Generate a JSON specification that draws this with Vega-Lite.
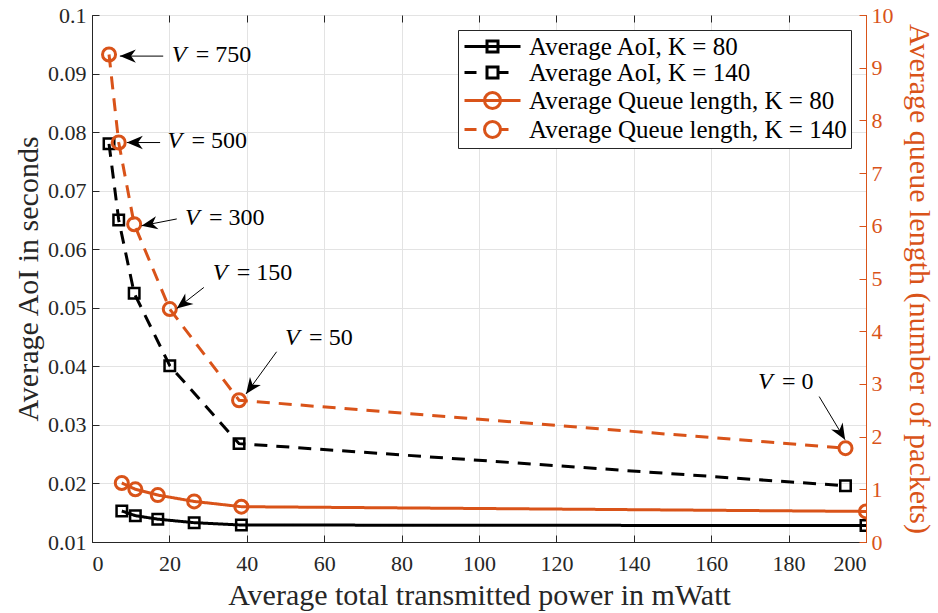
{
  "$schema": "https://vega.github.io/schema/vega-lite/v6.json",
  "width": 774,
  "height": 527,
  "autosize": "none",
  "padding": {"left": 92, "top": 15, "right": 72, "bottom": 71},
  "background": "white",
  "datasets": {
    "aoi": [
      {"P": 7.7, "aoi": 0.0153, "K": "80"},
      {"P": 11.2, "aoi": 0.0145, "K": "80"},
      {"P": 17.0, "aoi": 0.0139, "K": "80"},
      {"P": 26.4, "aoi": 0.0133, "K": "80"},
      {"P": 38.6, "aoi": 0.0129, "K": "80"},
      {"P": 200, "aoi": 0.0128, "K": "80"},
      {"P": 4.4, "aoi": 0.0780, "K": "140"},
      {"P": 6.9, "aoi": 0.0650, "K": "140"},
      {"P": 10.9, "aoi": 0.0525, "K": "140"},
      {"P": 20.1, "aoi": 0.0401, "K": "140"},
      {"P": 38.0, "aoi": 0.0268, "K": "140"},
      {"P": 194.7, "aoi": 0.0196, "K": "140"}
    ],
    "queue": [
      {"P": 7.7, "q": 1.12, "K": "80"},
      {"P": 11.2, "q": 1.0, "K": "80"},
      {"P": 17.0, "q": 0.89, "K": "80"},
      {"P": 26.4, "q": 0.77, "K": "80"},
      {"P": 38.6, "q": 0.67, "K": "80"},
      {"P": 200, "q": 0.58, "K": "80"},
      {"P": 4.4, "q": 9.25, "K": "140"},
      {"P": 6.9, "q": 7.58, "K": "140"},
      {"P": 10.9, "q": 6.03, "K": "140"},
      {"P": 20.1, "q": 4.42, "K": "140"},
      {"P": 38.0, "q": 2.69, "K": "140"},
      {"P": 194.7, "q": 1.78, "K": "140"}
    ],
    "arrows": [
      {"tailP": 18.4, "tailQ": 9.22, "tipP": 7.2, "tipQ": 9.22},
      {"tailP": 17.6, "tailQ": 7.58, "tipP": 9.0, "tipQ": 7.58},
      {"tailP": 21.9, "tailQ": 6.13, "tipP": 12.8, "tipQ": 6.0},
      {"tailP": 28.9, "tailQ": 4.83, "tipP": 21.9, "tipQ": 4.43},
      {"tailP": 47.7, "tailQ": 3.61, "tipP": 39.8, "tipQ": 2.81},
      {"tailP": 187.9, "tailQ": 2.76, "tipP": 194.6, "tipQ": 1.94}
    ],
    "labels": [
      {"P": 20.6, "q": 9.25, "rest": "= 750"},
      {"P": 19.5, "q": 7.6, "rest": "= 500"},
      {"P": 24.0, "q": 6.15, "rest": "= 300"},
      {"P": 31.2, "q": 5.1, "rest": "= 150"},
      {"P": 49.9, "q": 3.88, "rest": "= 50"},
      {"P": 172.1, "q": 3.04, "rest": "= 0"}
    ],
    "legendItems": [
      {"series": "Average AoI, K = 80"}
    ]
  },
  "config": {
    "font": "Liberation Serif",
    "view": {"stroke": "#262626", "strokeWidth": 1},
    "axis": {
      "labelFont": "Liberation Serif",
      "labelFontSize": 22,
      "titleFont": "Liberation Serif",
      "titleFontSize": 30,
      "titleFontWeight": "normal",
      "labelColor": "#262626",
      "titleColor": "#262626",
      "gridColor": "#e3e3e3",
      "gridWidth": 1,
      "domainColor": "#262626",
      "tickColor": "#262626",
      "tickSize": -7,
      "labelPadding": 12
    },
    "legend": {
      "labelFont": "Liberation Serif",
      "labelFontSize": 25,
      "labelColor": "black",
      "labelLimit": 0
    }
  },
  "layer": [
    {
      "layer": [
        {
          "data": {"name": "aoi"},
          "mark": {"type": "line", "strokeWidth": 3, "color": "black", "clip": true},
          "encoding": {
            "x": {"field": "P", "type": "quantitative"},
            "y": {"field": "aoi", "type": "quantitative"},
            "strokeDash": {"field": "K", "type": "nominal", "scale": {"domain": ["80", "140"], "range": [[1, 0], [13, 9]]}, "legend": null}
          }
        },
        {
          "data": {"name": "aoi"},
          "mark": {"type": "point", "shape": "square", "filled": false, "size": 110, "strokeWidth": 2.5, "color": "black", "opacity": 1, "clip": true},
          "encoding": {
            "x": {"field": "P", "type": "quantitative"},
            "y": {"field": "aoi", "type": "quantitative"}
          }
        },
        {
          "data": {"name": "legendItems"},
          "transform": [{"filter": "false"}],
          "mark": {"type": "point", "filled": false, "size": 400, "strokeWidth": 3, "opacity": 1},
          "encoding": {
            "stroke": {
              "field": "series", "type": "nominal",
              "scale": {
                "domain": ["Average AoI, K = 80", "Average AoI, K = 140", "Average Queue length, K = 80", "Average Queue length, K = 140"],
                "range": ["black", "black", "#D95319", "#D95319"]
              },
              "legend": {
                "title": null, "orient": "top-right", "offset": 15,
                "strokeColor": "#262626", "fillColor": "white", "padding": 4,
                "rowPadding": 0, "symbolSize": 400, "symbolStrokeWidth": 3,
                "labelOffset": 42, "symbolOpacity": 1
              }
            },
            "shape": {
              "field": "series", "type": "nominal",
              "scale": {
                "domain": ["Average AoI, K = 80", "Average AoI, K = 140", "Average Queue length, K = 80", "Average Queue length, K = 140"],
                "range": [
                  "M-1,0H4.6M1.25,-0.55H2.35V0.55H1.25Z",
                  "M-1,0H0.2M2.35,0H3.4M1.25,-0.55H2.35V0.55H1.25Z",
                  "M-1,0H4.6M1.0,0A0.8,0.8 0 1,0 2.6,0A0.8,0.8 0 1,0 1.0,0Z",
                  "M-1,0H0.2M2.6,0H3.4M1.0,0A0.8,0.8 0 1,0 2.6,0A0.8,0.8 0 1,0 1.0,0Z"
                ]
              },
              "legend": {
                "title": null, "orient": "top-right", "offset": 15,
                "strokeColor": "#262626", "fillColor": "white", "padding": 4,
                "rowPadding": 0, "symbolSize": 400, "symbolStrokeWidth": 3,
                "labelOffset": 42, "symbolOpacity": 1
              }
            }
          }
        }
      ],
      "encoding": {
        "x": {
          "field": "P", "type": "quantitative",
          "scale": {"domain": [0, 200], "nice": false},
          "axis": {"title": "Average total transmitted power in mWatt", "values": [0, 20, 40, 60, 80, 100, 120, 140, 160, 180, 200], "grid": true, "labelPadding": 18, "titlePadding": 6}
        },
        "y": {
          "field": "aoi", "type": "quantitative",
          "scale": {"domain": [0.01, 0.1], "nice": false, "zero": false},
          "axis": {"title": "Average AoI in seconds", "values": [0.01, 0.02, 0.03, 0.04, 0.05, 0.06, 0.07, 0.08, 0.09, 0.1], "format": ".2~f", "grid": true, "labelPadding": 13, "titlePadding": 4}
        }
      }
    },
    {
      "layer": [
        {
          "data": {"name": "queue"},
          "mark": {"type": "line", "strokeWidth": 3, "color": "#D95319", "clip": true},
          "encoding": {
            "x": {"field": "P", "type": "quantitative"},
            "y": {"field": "q", "type": "quantitative"},
            "strokeDash": {"field": "K", "type": "nominal", "scale": {"domain": ["80", "140"], "range": [[1, 0], [13, 9]]}, "legend": null}
          }
        },
        {
          "data": {"name": "queue"},
          "mark": {"type": "point", "shape": "circle", "filled": false, "size": 170, "strokeWidth": 3, "color": "#D95319", "opacity": 1, "clip": true},
          "encoding": {
            "x": {"field": "P", "type": "quantitative"},
            "y": {"field": "q", "type": "quantitative"}
          }
        },
        {
          "data": {"name": "arrows"},
          "mark": {"type": "rule", "color": "black", "strokeWidth": 1},
          "encoding": {
            "x": {"field": "tailP", "type": "quantitative"},
            "y": {"field": "tailQ", "type": "quantitative"},
            "x2": {"field": "tipP"},
            "y2": {"field": "tipQ"}
          }
        },
        {
          "data": {"name": "arrows"},
          "transform": [
            {"calculate": "atan2(-(datum.tipQ - datum.tailQ) * 52.7, (datum.tipP - datum.tailP) * 3.87) * 180 / PI", "as": "ang"}
          ],
          "mark": {"type": "point", "shape": "M0,0L-1,-0.42L-0.7,0L-1,0.42Z", "filled": true, "size": 1024, "color": "black", "opacity": 1, "strokeWidth": 0},
          "encoding": {
            "x": {"field": "tipP", "type": "quantitative"},
            "y": {"field": "tipQ", "type": "quantitative"},
            "angle": {"field": "ang", "type": "quantitative", "scale": null}
          }
        },
        {
          "data": {"name": "labels"},
          "mark": {"type": "text", "text": "V", "fontStyle": "italic", "fontSize": 24, "align": "left", "baseline": "middle", "color": "black", "font": "Liberation Serif"},
          "encoding": {
            "x": {"field": "P", "type": "quantitative"},
            "y": {"field": "q", "type": "quantitative"}
          }
        },
        {
          "data": {"name": "labels"},
          "mark": {"type": "text", "fontSize": 24, "align": "left", "baseline": "middle", "color": "black", "dx": 24, "font": "Liberation Serif"},
          "encoding": {
            "x": {"field": "P", "type": "quantitative"},
            "y": {"field": "q", "type": "quantitative"},
            "text": {"field": "rest"}
          }
        }
      ],
      "encoding": {
        "x": {
          "field": "P", "type": "quantitative",
          "scale": {"domain": [0, 200], "nice": false},
          "axis": {"orient": "top", "labels": false, "title": null, "grid": false, "domain": false, "values": [0, 20, 40, 60, 80, 100, 120, 140, 160, 180, 200]}
        },
        "y": {
          "field": "q", "type": "quantitative",
          "scale": {"domain": [0, 10], "nice": false, "zero": false},
          "axis": {
            "orient": "right", "title": "Average queue length (number of packets)",
            "values": [0, 1, 2, 3, 4, 5, 6, 7, 8, 9, 10], "grid": false,
            "labelColor": "#D95319", "titleColor": "#D95319", "tickColor": "#D95319", "domainColor": "#D95319",
            "labelPadding": 12, "titlePadding": 10
          }
        }
      }
    }
  ],
  "resolve": {"scale": {"y": "independent"}, "axis": {"x": "independent"}}
}
